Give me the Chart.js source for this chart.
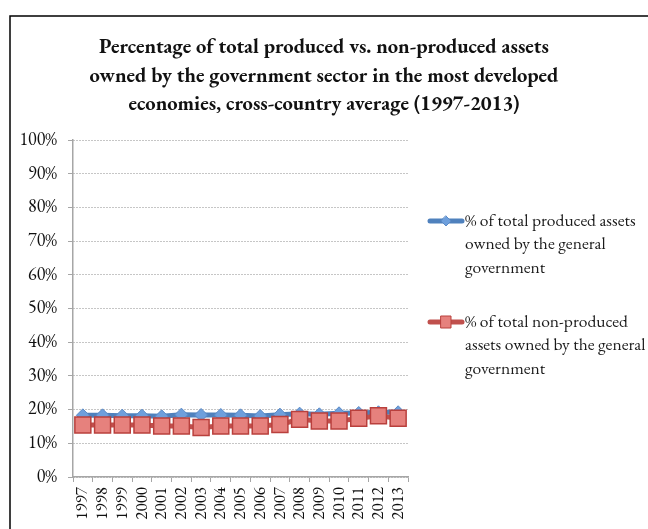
<!DOCTYPE html>
<html>
<head>
<meta charset="utf-8">
<script src="https://cdn.jsdelivr.net/npm/chart.js@4/dist/chart.umd.min.js"></script>
<style>
html,body{margin:0;padding:0;background:#fff;}
#wrap{position:relative;width:648px;height:529px;}
</style>
</head>
<body>
<div id="wrap"><canvas id="c" width="648" height="529"></canvas></div>
<script>
const years = ['1997','1998','1999','2000','2001','2002','2003','2004','2005','2006','2007','2008','2009','2010','2011','2012','2013'];
const producedShare = [18.3,18.3,18.2,18.2,18.0,18.5,18.4,18.4,18.3,18.1,18.5,18.8,18.6,18.9,19.0,19.2,19.2];
const nonProducedShare = [15.4,15.4,15.4,15.4,15.1,15.1,14.7,15.1,15.1,15.1,15.6,17.1,16.6,16.6,17.4,18.2,17.4];
const yTicks = [0,10,20,30,40,50,60,70,80,90,100];
const titleLines = ['Percentage of total produced vs. non-produced assets','owned by the government sector in the most developed','economies, cross-country average (1997-2013)'];
const legendLines = [
  ['% of total produced assets','owned by the general','government'],
  ['% of total non-produced','assets owned by the general','government']
];

const SERIF = "'EB Garamond', Garamond, 'Liberation Serif', 'DejaVu Serif', serif";

const framePlugin = {
  id: 'frame',
  beforeDraw(chart) {
    const ctx = chart.ctx;
    ctx.save();
    ctx.fillStyle = '#fff';
    ctx.fillRect(0, 0, chart.width, chart.height);
    ctx.strokeStyle = '#000';
    ctx.lineWidth = 1.5;
    ctx.strokeRect(10, 16, chart.width, chart.height);
    ctx.restore();
  }
};

const titlePlugin = {
  id: 'customTitle',
  afterDraw(chart) {
    const ctx = chart.ctx;
    ctx.save();
    ctx.fillStyle = '#111';
    ctx.font = 'bold 20.5px ' + SERIF;
    ctx.textAlign = 'center';
    ctx.textBaseline = 'middle';
    const ys = [47, 76, 104];
    titleLines.forEach((t, i) => ctx.fillText(t, 324, ys[i]));
    ctx.restore();
  }
};

const legendPlugin = {
  id: 'customLegend',
  afterDraw(chart) {
    const ctx = chart.ctx;
    const x0 = 430, x1 = 462, tx = 465;
    const starts = [221, 322];
    const lh = 23.5;
    ctx.save();
    chart.data.datasets.forEach((ds, i) => {
      const y = starts[i];
      const cx = (x0 + x1) / 2;
      ctx.strokeStyle = ds.borderColor;
      ctx.lineWidth = 5;
      ctx.lineCap = 'round';
      ctx.beginPath(); ctx.moveTo(x0, y); ctx.lineTo(x1, y); ctx.stroke();
      ctx.fillStyle = ds.pointBackgroundColor;
      ctx.strokeStyle = ds.pointBorderColor;
      ctx.lineWidth = 1;
      ctx.beginPath();
      if (i === 0) {
        const r = 5;
        ctx.moveTo(cx, y - r); ctx.lineTo(cx + r, y); ctx.lineTo(cx, y + r); ctx.lineTo(cx - r, y); ctx.closePath();
      } else {
        ctx.rect(cx - 5, y - 6, 10, 12);
      }
      ctx.fill(); ctx.stroke();
      ctx.fillStyle = '#1a1a1a';
      ctx.font = '17.5px ' + SERIF;
      ctx.textBaseline = 'middle';
      ctx.textAlign = 'left';
      legendLines[i].forEach((t, k) => ctx.fillText(t, tx, y + k * lh));
    });
    ctx.restore();
  }
};

new Chart(document.getElementById('c'), {
  type: 'line',
  data: {
    labels: years,
    datasets: [
      {
        label: legendLines[0].join(' '),
        data: producedShare,
        borderColor: '#4f81bd',
        borderWidth: 5,
        pointStyle: 'rectRot',
        pointRadius: 6.5,
        pointBackgroundColor: '#6e9fdc',
        pointBorderColor: '#5a8ac6',
        pointBorderWidth: 1,
        tension: 0,
        order: 2
      },
      {
        label: legendLines[1].join(' '),
        data: nonProducedShare,
        borderColor: '#c0504d',
        borderWidth: 5,
        pointStyle: 'rect',
        pointRadius: 11.3,
        pointBackgroundColor: '#e6817d',
        pointBorderColor: '#b9403d',
        pointBorderWidth: 1.5,
        tension: 0,
        order: 1
      }
    ]
  },
  options: {
    responsive: false,
    animation: false,
    devicePixelRatio: 1,
    layout: { padding: { left: 0, right: 240, top: 140, bottom: 0 } },
    plugins: {
      legend: { display: false },
      tooltip: { enabled: false },
      title: { display: false }
    },
    scales: {
      x: {
        offset: true,
        afterFit(s) { s.height = 52; },
        grid: { display: true, drawOnChartArea: false, drawTicks: true, tickLength: 5, color: '#a6a6a6', tickColor: '#a6a6a6', offset: true },
        border: { display: true, color: '#a6a6a6', width: 1.5 },
        ticks: { autoSkip: false, minRotation: 90, maxRotation: 90, padding: 5, color: '#111', font: { family: SERIF, size: 17 } }
      },
      y: {
        min: 0, max: 100,
        afterFit(s) { s.width = 73; },
        afterBuildTicks(s) { s.ticks = yTicks.map(v => ({ value: v })); },
        grid: { color: '#8c8c8c', lineWidth: 1, tickLength: 5, tickColor: '#a6a6a6', tickBorderDash: [] },
        border: { display: true, color: '#a6a6a6', width: 1.5, dash: [1, 2] },
        ticks: { padding: 11, color: '#111', font: { family: SERIF, size: 18 }, callback: v => v + '%' }
      }
    }
  },
  plugins: [framePlugin, titlePlugin, legendPlugin]
});
</script>
</body>
</html>
